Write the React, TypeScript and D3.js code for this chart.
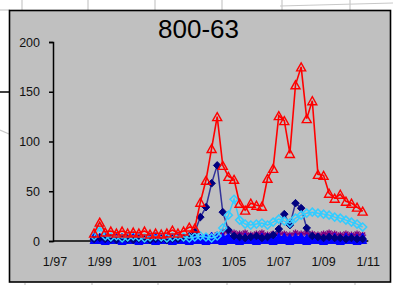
import React, { useRef, useEffect } from 'react';
import * as d3 from 'd3';

const WIDTH = 393;
const HEIGHT = 285;

const title = '800-63';

// quarterly samples, 10/98 .. 10/10
const quarters = [
  '1998-10',
  '1999-01', '1999-04', '1999-07', '1999-10',
  '2000-01', '2000-04', '2000-07', '2000-10',
  '2001-01', '2001-04', '2001-07', '2001-10',
  '2002-01', '2002-04', '2002-07', '2002-10',
  '2003-01', '2003-04', '2003-07', '2003-10',
  '2004-01', '2004-04', '2004-07', '2004-10',
  '2005-01', '2005-04', '2005-07', '2005-10',
  '2006-01', '2006-04', '2006-07', '2006-10',
  '2007-01', '2007-04', '2007-07', '2007-10',
  '2008-01', '2008-04', '2008-07', '2008-10',
  '2009-01', '2009-04', '2009-07', '2009-10',
  '2010-01', '2010-04', '2010-07', '2010-10',
];

const redValues = [
  8,
  19, 9, 10, 8,
  10, 8, 9, 8,
  10, 7, 8, 7,
  8, 11, 8, 10,
  14, 13, 39, 61,
  93, 125, 76, 65,
  62, 38, 31, 38,
  36, 35, 63, 73,
  126, 121, 88, 157,
  175, 123, 141, 67,
  66, 48, 43, 47,
  40, 38, 34, 30,
];

const navyValues = [
  2,
  3, 2, 2, 1,
  2, 2, 1, 2,
  2, 1, 2, 2,
  1, 2, 2, 3,
  5, 9, 24, 34,
  58, 76, 29, 11,
  5, 4, 3, 4,
  5, 3, 4, 6,
  12, 27, 16, 38,
  33, 13, 5, 4,
  3, 4, 3, 3,
  2, 3, 2, 2,
];

const cyanValues = [
  5,
  14, 5, 4, 5,
  3, 4, 5, 4,
  3, 4, 5, 4,
  3, 4, 5, 4,
  3, 4, 5, 4,
  3, 5, 13, 26,
  42, 21, 17, 16,
  17, 18, 16, 19,
  22, 20, 18, 23,
  26, 28, 29, 28,
  27, 26, 24, 23,
  21, 19, 17, 14,
];

const purpleValues = [
  2,
  1, 2, 1, 2,
  1, 2, 1, 1,
  2, 1, 2, 1,
  1, 2, 1, 2,
  1, 2, 2, 3,
  4, 6, 9, 10,
  8, 7, 8, 6,
  7, 8, 6, 7,
  8, 7, 6, 8,
  7, 8, 7, 6,
  7, 8, 7, 6,
  7, 6, 7, 6,
];

const blueValues = [
  5,
  4, 4, 3, 4,
  4, 3, 4, 4,
  3, 4, 4, 3,
  4, 4, 3, 4,
  4, 4, 3, 4,
  5, 4, 4, 5,
  4, 3, 4, 4,
  3, 4, 4, 3,
  4, 4, 3, 4,
  4, 3, 4, 4,
  3, 4, 4, 3,
  4, 4, 3, 4,
];

const lowBlueValues = [
  1,
  1, 0, 1, 1,
  0, 1, 1, 0,
  1, 1, 0, 1,
  1, 0, 1, 1,
  0, 1, 1, 0,
  1, 1, 0, 1,
  1, 0, 1, 1,
  0, 1, 1, 0,
  1, 1, 0, 1,
  1, 0, 1, 1,
  0, 1, 1, 0,
  1, 1, 0, 1,
];

const yTicks = [0, 50, 100, 150, 200];
const xTickLabels = ['1/97', '1/99', '1/01', '1/03', '1/05', '1/07', '1/09', '1/11'];

const triangle = (w, h) => `M0,${-h / 2}L${w / 2},${h / 2}L${-w / 2},${h / 2}Z`;
const diamond = (r) => `M0,${-r}L${r},0L0,${r}L${-r},0Z`;
const asterisk = 'M-3.5,0H3.5M0,-3.5V3.5M-2.5,-2.5L2.5,2.5M-2.5,2.5L2.5,-2.5';

function App() {
  const svgRef = useRef(null);

  useEffect(() => {
    const svg = d3.select(svgRef.current);
    svg.selectAll('*').remove();

    const parseQuarter = d3.timeParse('%Y-%m');
    const parseTick = d3.timeParse('%m/%y');
    const dates = quarters.map((q) => parseQuarter(q));

    const x = d3
      .scaleTime()
      .domain([parseTick('1/97'), parseTick('1/11')])
      .range([55, 368.3]);

    const y = d3.scaleLinear().domain([0, 200]).range([241, 42]);

    // spreadsheet behind the chart
    const sheet = svg.append('g').attr('stroke', '#c8c8c8').attr('stroke-width', 1.2);
    [22, 88, 155, 222, 282, 350].forEach((gx) => {
      sheet.append('line').attr('x1', gx).attr('x2', gx).attr('y1', 0).attr('y2', 10);
    });
    [25, 92, 158, 227, 290, 355].forEach((gx) => {
      sheet.append('line').attr('x1', gx).attr('x2', gx).attr('y1', 283).attr('y2', 285);
    });
    sheet.append('line').attr('x1', 0).attr('x2', 10).attr('y1', 10).attr('y2', 10);
    sheet.append('line').attr('x1', 280).attr('x2', 393).attr('y1', 6).attr('y2', 3);
    sheet.append('line').attr('x1', 0).attr('x2', 9).attr('y1', 130).attr('y2', 134);
    svg.append('line').attr('x1', 0).attr('x2', 9).attr('y1', 92).attr('y2', 92)
      .attr('stroke', '#000').attr('stroke-width', 1.5);

    // chart area
    svg.append('rect')
      .attr('x', 9.5).attr('y', 10.5).attr('width', 381).attr('height', 271.5)
      .attr('fill', '#c0c0c0').attr('stroke', '#000').attr('stroke-width', 1.6);

    svg.append('text')
      .attr('x', 198.5).attr('y', 38)
      .attr('text-anchor', 'middle')
      .attr('font-family', '"Liberation Sans", Arial, sans-serif')
      .attr('font-size', 26)
      .text(title);

    // axes
    const yAxis = d3.axisLeft(y).tickValues(yTicks).tickSize(4).tickPadding(9);
    const yAxisGroup = svg.append('g').attr('transform', 'translate(53,0)').call(yAxis);
    yAxisGroup.select('.domain').attr('stroke-width', 1.5);
    yAxisGroup.selectAll('line').attr('stroke-width', 1.5);
    yAxisGroup.selectAll('text')
      .attr('font-family', '"Liberation Sans", Arial, sans-serif')
      .attr('font-size', 12.5)
      .attr('fill', '#111');

    svg.append('line')
      .attr('x1', 53).attr('x2', x(parseTick('1/11')))
      .attr('y1', y(0)).attr('y2', y(0))
      .attr('stroke', '#000').attr('stroke-width', 1.5);

    svg.append('g')
      .selectAll('text')
      .data(xTickLabels)
      .enter()
      .append('text')
      .attr('x', (d) => x(parseTick(d)))
      .attr('y', 262)
      .attr('dy', '0.35em')
      .attr('text-anchor', 'middle')
      .attr('font-family', '"Liberation Sans", Arial, sans-serif')
      .attr('font-size', 12.5)
      .attr('fill', '#111')
      .text((d) => d);

    const drawSeries = (values, opts) => {
      const pts = values.map((v, i) => ({ date: dates[i], value: v }));
      const line = d3.line().x((d) => x(d.date)).y((d) => y(d.value));
      const g = svg.append('g');
      g.append('path')
        .attr('d', line(pts))
        .attr('fill', 'none')
        .attr('stroke', opts.lineColor)
        .attr('stroke-width', opts.lineWidth);
      g.selectAll('path.marker')
        .data(pts)
        .enter()
        .append('path')
        .attr('class', 'marker')
        .attr('transform', (d) => `translate(${x(d.date)},${y(d.value)})`)
        .attr('d', opts.marker)
        .attr('fill', opts.fill)
        .attr('stroke', opts.stroke)
        .attr('stroke-width', opts.markerWidth);
    };

    drawSeries(purpleValues, {
      lineColor: '#800080', lineWidth: 1.5, marker: asterisk,
      fill: 'none', stroke: '#800080', markerWidth: 1.3,
    });
    drawSeries(blueValues, {
      lineColor: '#0000ff', lineWidth: 2, marker: triangle(8, 8),
      fill: '#0000ff', stroke: '#0000ff', markerWidth: 1,
    });
    drawSeries(lowBlueValues, {
      lineColor: '#0000ff', lineWidth: 2, marker: triangle(8, 7),
      fill: '#0000ff', stroke: '#0000ff', markerWidth: 1,
    });
    drawSeries(navyValues, {
      lineColor: '#333399', lineWidth: 1.5, marker: diamond(3.8),
      fill: '#000080', stroke: '#000080', markerWidth: 1,
    });
    drawSeries(cyanValues, {
      lineColor: '#33ccff', lineWidth: 1.5, marker: diamond(4),
      fill: 'none', stroke: '#33ccff', markerWidth: 1.5,
    });
    drawSeries(redValues, {
      lineColor: '#ff0000', lineWidth: 1.6, marker: triangle(9, 8),
      fill: 'none', stroke: '#ff0000', markerWidth: 1.4,
    });
  }, []);

  return (
    <svg
      ref={svgRef}
      width={WIDTH}
      height={HEIGHT}
      style={{ position: 'absolute', left: 0, top: 0, background: '#fff', display: 'block' }}
    />
  );
}

export default App;
